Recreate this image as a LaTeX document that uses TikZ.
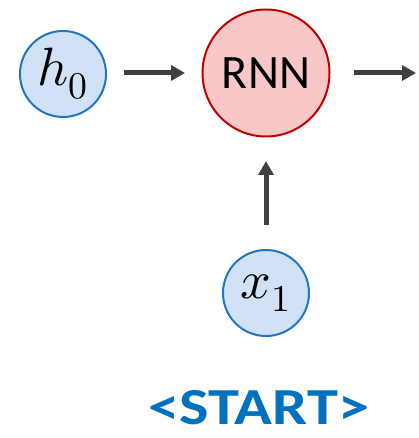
\documentclass[tikz,border=0pt]{standalone}
\usepackage{fontspec}
\usepackage{unicode-math}
\setmathfont{Latin Modern Math}
\setsansfont{Carlito}
\usetikzlibrary{arrows.meta}
\definecolor{bfill}{HTML}{D2E2F6}
\definecolor{bline}{HTML}{1F77C4}
\definecolor{rfill}{HTML}{F8C8C8}
\definecolor{rline}{HTML}{C00000}
\definecolor{arr}{HTML}{404040}
\definecolor{tblue}{HTML}{0070C0}
\begin{document}
\begin{tikzpicture}[x=1pt,y=-1pt,
  bcirc/.style={circle,draw=bline,fill=bfill,line width=2pt,minimum size=86pt,inner sep=0pt},
  rcirc/.style={circle,draw=rline,fill=rfill,line width=2pt,minimum size=127pt,inner sep=0pt},
  conn/.style={draw=arr,line width=5pt,-{Triangle[length=14pt,width=15pt]}}]
\useasboundingbox (0,0) rectangle (419,438);
\node[bcirc] (h0) at (63,74) {\fontsize{54}{58}\selectfont$h_0$};
\node[rcirc] (rnn) at (266,73) {\fontsize{48}{52}\selectfont\sffamily RNN};
\node[bcirc] (x1) at (266,293) {\fontsize{54}{58}\selectfont$x_1$};
\coordinate (a1s) at (124,73);
\coordinate (a1e) at (185,73);
\coordinate (a2s) at (354,73);
\coordinate (a2e) at (416,73);
\coordinate (a3s) at (266,225);
\coordinate (a3e) at (266,161);
\draw[conn] (a1s) -- (a1e);
\draw[conn] (a2s) -- (a2e);
\draw[conn] (a3s) -- (a3e);
\node[anchor=base,text=tblue,font=\sffamily\bfseries\fontsize{52}{56}\selectfont,inner sep=0pt] (start) at (259,424) {\scalebox{1.2}[1]{<START>}};
\end{tikzpicture}
\end{document}
